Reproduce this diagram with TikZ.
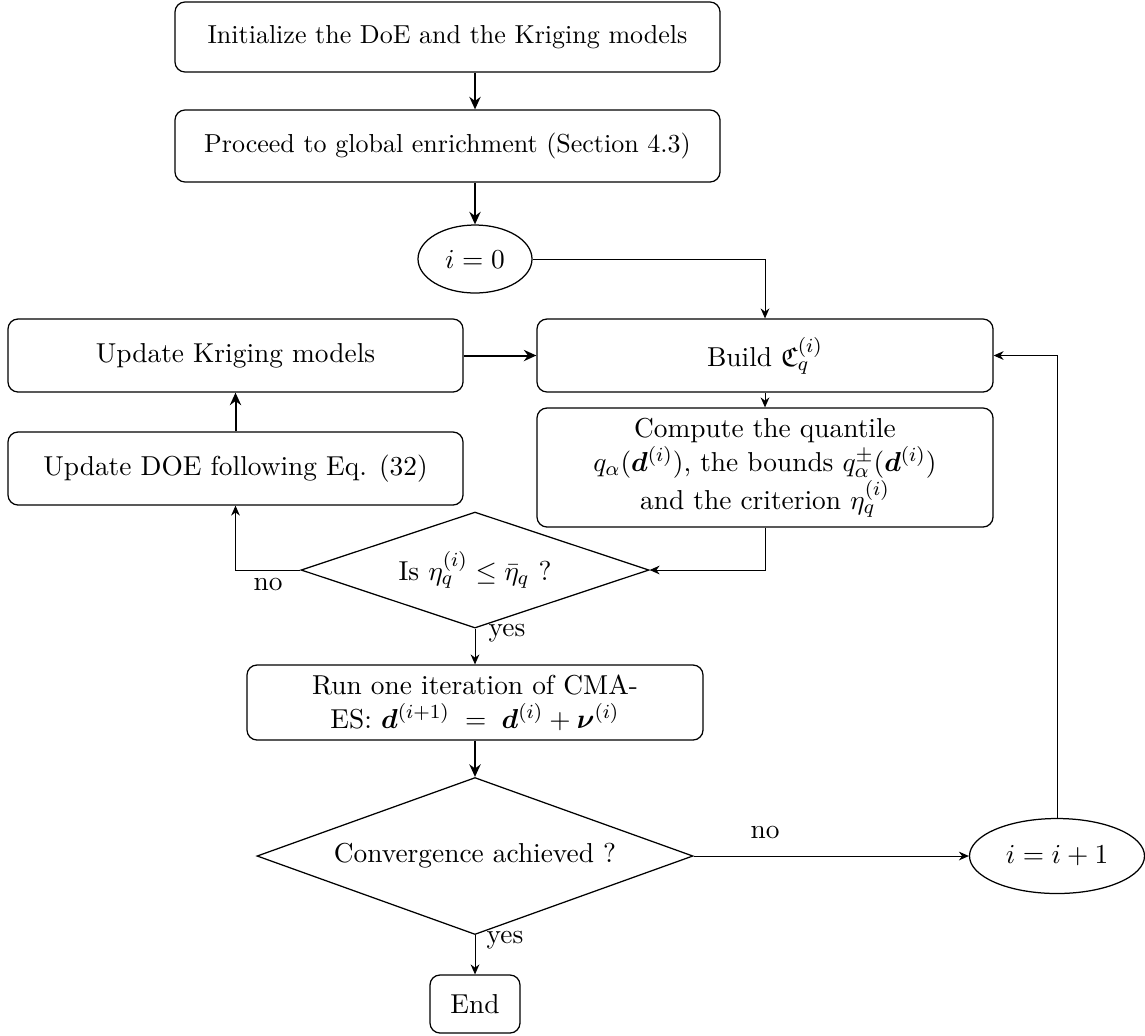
\documentclass[tikz,border=0pt]{standalone}
\usepackage{amsmath,amssymb,bm}
\usetikzlibrary{shapes.geometric,arrows.meta}
\begin{document}
\begin{tikzpicture}[x=0.4pt,y=-0.4pt,
  bigfont/.style={font=\fontsize{10.95pt}{13.6pt}\selectfont},
  topfont/.style={font=\fontsize{10.4pt}{12.8pt}\selectfont},
  box/.style={draw,rounded corners=4pt,align=center,inner sep=2pt,line width=0.5pt,bigfont},
  oval/.style={draw,ellipse,inner sep=1pt,line width=0.5pt,bigfont},
  dia/.style={draw,diamond,inner sep=0pt,line width=0.5pt,shape aspect=3,bigfont},
  thinarr/.style={-{Stealth[length=4pt,width=3.5pt]},line width=0.4pt},
  thickarr/.style={-{Stealth[length=5pt,width=4.5pt]},line width=0.8pt},
  lab/.style={inner sep=1pt,bigfont}]
\useasboundingbox (0,0) rectangle (1145,1035);
\node[box,topfont,minimum width=218pt,minimum height=28pt] (b1) at (447.5,37) {Initialize the DoE and the Kriging models};
\node[box,topfont,minimum width=218pt,minimum height=28.8pt] (b2) at (447.5,146) {Proceed to global enrichment (Section 4.3)};
\node[oval,minimum width=45.6pt,minimum height=27.2pt] (e0) at (475,259) {$i=0$};
\node[box,minimum width=182.4pt,minimum height=29.2pt] (build) at (765,355.5) {Build $\mathfrak{C}_q^{(i)}$};
\node[box,minimum width=182.4pt,minimum height=47.6pt] (comp) at (765,467.5) {Compute the quantile\\ $q_\alpha(\bm{d}^{(i)})$, the bounds $q_\alpha^{\pm}(\bm{d}^{(i)})$\\ and the criterion $\eta_q^{(i)}$};
\node[box,minimum width=182pt,minimum height=29.2pt] (kri) at (235.5,355.5) {Update Kriging models};
\node[box,minimum width=182pt,minimum height=29.2pt] (doe) at (235.5,468.5) {Update DOE following Eq. (32)};
\node[dia,minimum width=139.2pt,minimum height=46.4pt] (d1) at (475,570) {Is $\eta_q^{(i)}\leq\bar{\eta}_q$ ?};
\node[box,minimum width=182.4pt,minimum height=30pt] (run) at (475,702.5) {Run one iteration of CMA-\\ ES: $\bm{d}^{(i+1)}\;=\;\bm{d}^{(i)}+\bm{\nu}^{(i)}$};
\node[dia,minimum width=174.4pt,minimum height=62.8pt] (d2) at (475,856) {Convergence achieved ?};
\node[oval,minimum width=70pt,minimum height=30pt] (e1) at (1057,856) {$i=i+1$};
\node[box,minimum width=36pt,minimum height=23.2pt] (end) at (475,1004) {End};
\coordinate (mx) at (475,0);
\draw[thickarr] (b1.south -| mx) -- (b2.north -| mx);
\draw[thickarr] (b2.south -| mx) -- (e0.north);
\draw[thinarr] (e0.east) -| (build.north);
\draw[thickarr] (kri.east) -- (build.west);
\draw[thinarr] (build.south) -- (comp.north);
\draw[thinarr] (comp.south) |- (d1.east);
\draw[thinarr] (d1.west) -| (doe.south);
\node[lab] (no1) at (268,585) {no};
\draw[thickarr] (doe.north) -- (kri.south);
\draw[thinarr] (d1.south) -- (run.north);
\node[lab] (yes1) at (507,633) {yes};
\draw[thickarr] (run.south) -- (d2.north);
\draw[thinarr] (d2.east) -- (e1.west);
\node[lab] (no2) at (765,832) {no};
\draw[thinarr] (e1.north) |- (build.east);
\draw[thinarr] (d2.south) -- (end.north);
\node[lab] (yes2) at (505,940) {yes};
\end{tikzpicture}
\end{document}
